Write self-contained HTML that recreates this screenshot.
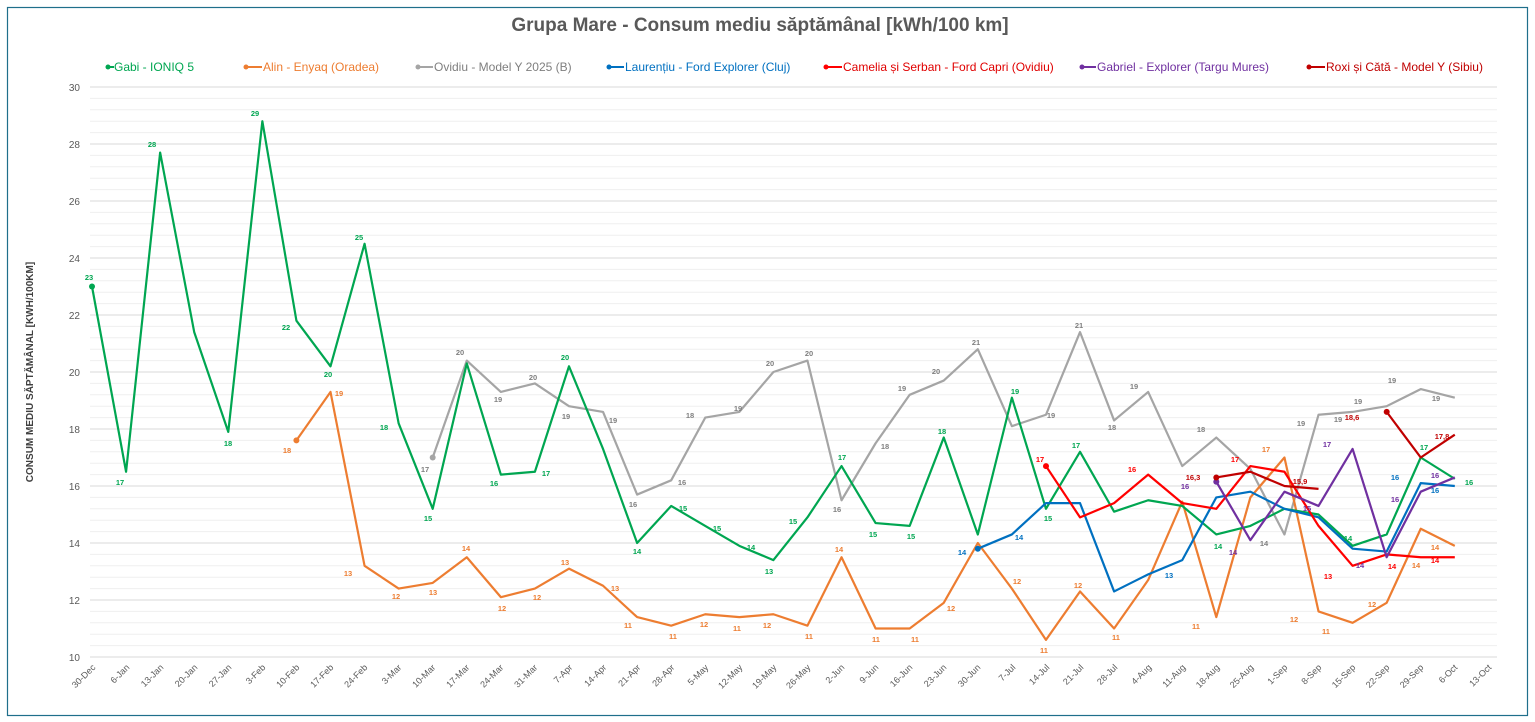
<!DOCTYPE html>
<html><head><meta charset="utf-8"><style>
html,body{margin:0;padding:0;background:#fff;}
svg{display:block;font-family:"Liberation Sans",sans-serif;}
.dl{font-size:7.5px;font-weight:bold;}
</style></head><body>
<svg width="1535" height="722" viewBox="0 0 1535 722" xmlns="http://www.w3.org/2000/svg">
<rect x="0" y="0" width="1535" height="722" fill="#fff"/>
<rect x="7.5" y="7.5" width="1520" height="708" fill="none" stroke="#1f6f8b" stroke-width="1.2"/>
<text x="760" y="31" text-anchor="middle" font-size="19" font-weight="bold" fill="#595959">Grupa Mare - Consum mediu săptămânal [kWh/100 km]</text>
<!-- legend -->
<g font-size="12">
<line x1="106" y1="67" x2="114" y2="67" stroke="#00A651" stroke-width="2"/><circle cx="108" cy="67" r="2.5" fill="#00A651"/><text x="114" y="71" fill="#00A651">Gabi - IONIQ 5</text>
<line x1="245" y1="67" x2="262" y2="67" stroke="#ED7D31" stroke-width="2"/><circle cx="246" cy="67" r="2.5" fill="#ED7D31"/><text x="263" y="71" fill="#ED7D31">Alin - Enyaq (Oradea)</text>
<line x1="417" y1="67" x2="433" y2="67" stroke="#A5A5A5" stroke-width="2"/><circle cx="418" cy="67" r="2.5" fill="#A5A5A5"/><text x="434" y="71" fill="#7f7f7f">Ovidiu - Model Y 2025 (B)</text>
<line x1="608" y1="67" x2="624" y2="67" stroke="#0070C0" stroke-width="2"/><circle cx="609" cy="67" r="2.5" fill="#0070C0"/><text x="625" y="71" fill="#0070C0">Laurențiu - Ford Explorer (Cluj)</text>
<line x1="825" y1="67" x2="842" y2="67" stroke="#FF0000" stroke-width="2"/><circle cx="826" cy="67" r="2.5" fill="#FF0000"/><text x="843" y="71" fill="#E00000">Camelia și Serban - Ford Capri (Ovidiu)</text>
<line x1="1081" y1="67" x2="1096" y2="67" stroke="#7030A0" stroke-width="2"/><circle cx="1082" cy="67" r="2.5" fill="#7030A0"/><text x="1097" y="71" fill="#7030A0">Gabriel - Explorer (Targu Mures)</text>
<line x1="1308" y1="67" x2="1325" y2="67" stroke="#C00000" stroke-width="2"/><circle cx="1309" cy="67" r="2.5" fill="#C00000"/><text x="1326" y="71" fill="#C00000">Roxi și Cătă - Model Y (Sibiu)</text>
</g>
<!-- grid -->
<g stroke="#efefef" stroke-width="1">
<path d="M90 98.4H1497M90 109.8H1497M90 121.2H1497M90 132.6H1497M90 155.4H1497M90 166.8H1497M90 178.2H1497M90 189.6H1497M90 212.4H1497M90 223.8H1497M90 235.2H1497M90 246.6H1497M90 269.4H1497M90 280.8H1497M90 292.2H1497M90 303.6H1497M90 326.4H1497M90 337.8H1497M90 349.2H1497M90 360.6H1497M90 383.4H1497M90 394.8H1497M90 406.2H1497M90 417.6H1497M90 440.4H1497M90 451.8H1497M90 463.2H1497M90 474.6H1497M90 497.4H1497M90 508.8H1497M90 520.2H1497M90 531.6H1497M90 554.4H1497M90 565.8H1497M90 577.2H1497M90 588.6H1497M90 611.4H1497M90 622.8H1497M90 634.2H1497M90 645.6H1497"/>
</g>
<g stroke="#d9d9d9" stroke-width="1">
<path d="M90 87H1497M90 144H1497M90 201H1497M90 258H1497M90 315H1497M90 372H1497M90 429H1497M90 486H1497M90 543H1497M90 600H1497M90 657H1497"/>
</g>
<g font-size="10" fill="#595959" text-anchor="end">
<text x="80" y="91">30</text><text x="80" y="148">28</text><text x="80" y="205">26</text><text x="80" y="262">24</text><text x="80" y="319">22</text><text x="80" y="376">20</text><text x="80" y="433">18</text><text x="80" y="490">16</text><text x="80" y="547">14</text><text x="80" y="604">12</text><text x="80" y="661">10</text>
</g>
<text transform="translate(33,372) rotate(-90)" text-anchor="middle" font-size="10" font-weight="bold" fill="#404040">CONSUM MEDIU SĂPTĂMÂNAL [KWH/100KM]</text>
<!-- x labels -->
<g font-size="9" fill="#595959" text-anchor="end">
<text transform="translate(96,668) rotate(-45)">30-Dec</text>
<text transform="translate(130,668) rotate(-45)">6-Jan</text>
<text transform="translate(164,668) rotate(-45)">13-Jan</text>
<text transform="translate(198,668) rotate(-45)">20-Jan</text>
<text transform="translate(232,668) rotate(-45)">27-Jan</text>
<text transform="translate(266,668) rotate(-45)">3-Feb</text>
<text transform="translate(300,668) rotate(-45)">10-Feb</text>
<text transform="translate(334,668) rotate(-45)">17-Feb</text>
<text transform="translate(368,668) rotate(-45)">24-Feb</text>
<text transform="translate(402,668) rotate(-45)">3-Mar</text>
<text transform="translate(436,668) rotate(-45)">10-Mar</text>
<text transform="translate(470,668) rotate(-45)">17-Mar</text>
<text transform="translate(504,668) rotate(-45)">24-Mar</text>
<text transform="translate(538,668) rotate(-45)">31-Mar</text>
<text transform="translate(573,668) rotate(-45)">7-Apr</text>
<text transform="translate(607,668) rotate(-45)">14-Apr</text>
<text transform="translate(641,668) rotate(-45)">21-Apr</text>
<text transform="translate(675,668) rotate(-45)">28-Apr</text>
<text transform="translate(709,668) rotate(-45)">5-May</text>
<text transform="translate(743,668) rotate(-45)">12-May</text>
<text transform="translate(777,668) rotate(-45)">19-May</text>
<text transform="translate(811,668) rotate(-45)">26-May</text>
<text transform="translate(845,668) rotate(-45)">2-Jun</text>
<text transform="translate(879,668) rotate(-45)">9-Jun</text>
<text transform="translate(913,668) rotate(-45)">16-Jun</text>
<text transform="translate(947,668) rotate(-45)">23-Jun</text>
<text transform="translate(981,668) rotate(-45)">30-Jun</text>
<text transform="translate(1016,668) rotate(-45)">7-Jul</text>
<text transform="translate(1050,668) rotate(-45)">14-Jul</text>
<text transform="translate(1084,668) rotate(-45)">21-Jul</text>
<text transform="translate(1118,668) rotate(-45)">28-Jul</text>
<text transform="translate(1152,668) rotate(-45)">4-Aug</text>
<text transform="translate(1186,668) rotate(-45)">11-Aug</text>
<text transform="translate(1220,668) rotate(-45)">18-Aug</text>
<text transform="translate(1254,668) rotate(-45)">25-Aug</text>
<text transform="translate(1288,668) rotate(-45)">1-Sep</text>
<text transform="translate(1322,668) rotate(-45)">8-Sep</text>
<text transform="translate(1356,668) rotate(-45)">15-Sep</text>
<text transform="translate(1390,668) rotate(-45)">22-Sep</text>
<text transform="translate(1424,668) rotate(-45)">29-Sep</text>
<text transform="translate(1458,668) rotate(-45)">6-Oct</text>
<text transform="translate(1492,668) rotate(-45)">13-Oct</text>
</g>
<!-- series -->
<g transform="translate(92,942) scale(34.07,-28.5)" fill="none" stroke-width="2.2" stroke-linejoin="round">
<polyline vector-effect="non-scaling-stroke" stroke="#A5A5A5" points="10,17.0 11,20.4 12,19.3 13,19.6 14,18.8 15,18.6 16,15.7 17,16.2 18,18.4 19,18.6 20,20.0 21,20.4 22,15.5 23,17.5 24,19.2 25,19.7 26,20.8 27,18.1 28,18.5 29,21.4 30,18.3 31,19.3 32,16.7 33,17.7 34,16.6 35,14.3 36,18.5 37,18.6 38,18.8 39,19.4 40,19.1"/>
<polyline vector-effect="non-scaling-stroke" stroke="#ED7D31" points="6,17.6 7,19.3 8,13.2 9,12.4 10,12.6 11,13.5 12,12.1 13,12.4 14,13.1 15,12.5 16,11.4 17,11.1 18,11.5 19,11.4 20,11.5 21,11.1 22,13.5 23,11.0 24,11.0 25,11.9 26,14.0 27,12.4 28,10.6 29,12.3 30,11.0 31,12.7 32,15.45 33,11.4 34,15.6 35,17.0 36,11.6 37,11.2 38,11.9 39,14.5 40,13.9"/>
<polyline vector-effect="non-scaling-stroke" stroke="#00A651" points="0,23.0 1,16.5 2,27.7 3,21.4 4,17.9 5,28.8 6,21.8 7,20.2 8,24.5 9,18.2 10,15.2 11,20.3 12,16.4 13,16.5 14,20.2 15,17.3 16,14.0 17,15.3 18,14.6 19,13.9 20,13.4 21,14.9 22,16.7 23,14.7 24,14.6 25,17.7 26,14.3 27,19.1 28,15.2 29,17.2 30,15.1 31,15.5 32,15.3 33,14.3 34,14.6 35,15.2 36,15.0 37,13.9 38,14.3 39,17.0 40,16.25"/>
<polyline vector-effect="non-scaling-stroke" stroke="#0070C0" points="26,13.8 27,14.3 28,15.4 29,15.4 30,12.3 31,12.9 32,13.4 33,15.6 34,15.8 35,15.2 36,14.9 37,13.8 38,13.7 39,16.1 40,16.0"/>
<polyline vector-effect="non-scaling-stroke" stroke="#FF0000" points="28,16.7 29,14.9 30,15.4 31,16.4 32,15.4 33,15.2 34,16.7 35,16.5 36,14.6 37,13.2 38,13.6 39,13.5 40,13.5"/>
<polyline vector-effect="non-scaling-stroke" stroke="#7030A0" points="33,16.15 34,14.1 35,15.8 36,15.3 37,17.3 38,13.5 39,15.8 40,16.3"/>
<polyline vector-effect="non-scaling-stroke" stroke="#C00000" points="33,16.3 34,16.5 35,16.0 36,15.9"/>
<polyline vector-effect="non-scaling-stroke" stroke="#C00000" points="38,18.6 39,17.0 40,17.8"/>
</g>
<!-- markers -->
<circle cx="92" cy="286.5" r="3" fill="#00A651"/>
<circle cx="296.4" cy="440.4" r="3" fill="#ED7D31"/>
<circle cx="432.7" cy="457.5" r="3" fill="#A5A5A5"/>
<circle cx="977.8" cy="548.7" r="3" fill="#0070C0"/>
<circle cx="1046" cy="466.1" r="3" fill="#FF0000"/>
<circle cx="1216.3" cy="481.7" r="3" fill="#7030A0"/>
<circle cx="1216.3" cy="477.5" r="3" fill="#C00000"/>
<circle cx="1386.7" cy="411.9" r="3" fill="#C00000"/>
<!-- data labels -->
<g class="dl" fill="#00A651" text-anchor="middle">
<text x="89" y="280">23</text><text x="120" y="485">17</text><text x="152" y="147">28</text><text x="255" y="116">29</text><text x="228" y="446">18</text><text x="286" y="330">22</text><text x="328" y="377">20</text><text x="359" y="240">25</text><text x="384" y="430">18</text><text x="428" y="521">15</text><text x="494" y="486">16</text><text x="546" y="476">17</text><text x="565" y="360">20</text><text x="637" y="554">14</text><text x="683" y="511">15</text><text x="717" y="531">15</text><text x="751" y="550">14</text><text x="769" y="574">13</text><text x="793" y="524">15</text><text x="842" y="460">17</text><text x="873" y="537">15</text><text x="911" y="539">15</text><text x="942" y="434">18</text><text x="1015" y="394">19</text><text x="1048" y="521">15</text><text x="1076" y="448">17</text><text x="1218" y="549">14</text><text x="1348" y="541">14</text><text x="1424" y="450">17</text><text x="1469" y="485">16</text>
</g>
<g class="dl" fill="#ED7D31" text-anchor="middle">
<text x="287" y="453">18</text><text x="339" y="396">19</text><text x="348" y="576">13</text><text x="396" y="599">12</text><text x="433" y="595">13</text><text x="466" y="551">14</text><text x="502" y="611">12</text><text x="537" y="600">12</text><text x="565" y="565">13</text><text x="615" y="591">13</text><text x="628" y="628">11</text><text x="673" y="639">11</text><text x="704" y="627">12</text><text x="737" y="631">11</text><text x="767" y="628">12</text><text x="809" y="639">11</text><text x="839" y="552">14</text><text x="876" y="642">11</text><text x="915" y="642">11</text><text x="951" y="611">12</text><text x="1017" y="584">12</text><text x="1044" y="653">11</text><text x="1078" y="588">12</text><text x="1116" y="640">11</text><text x="1196" y="629">11</text><text x="1266" y="452">17</text><text x="1294" y="622">12</text><text x="1326" y="634">11</text><text x="1372" y="607">12</text><text x="1416" y="568">14</text><text x="1435" y="550">14</text>
</g>
<g class="dl" fill="#808080" text-anchor="middle">
<text x="425" y="472">17</text><text x="460" y="355">20</text><text x="498" y="402">19</text><text x="533" y="380">20</text><text x="566" y="419">19</text><text x="613" y="423">19</text><text x="633" y="507">16</text><text x="682" y="485">16</text><text x="690" y="418">18</text><text x="738" y="411">19</text><text x="770" y="366">20</text><text x="809" y="356">20</text><text x="837" y="512">16</text><text x="885" y="449">18</text><text x="902" y="391">19</text><text x="936" y="374">20</text><text x="976" y="345">21</text><text x="1051" y="418">19</text><text x="1079" y="328">21</text><text x="1112" y="430">18</text><text x="1134" y="389">19</text><text x="1201" y="432">18</text><text x="1264" y="546">14</text><text x="1301" y="426">19</text><text x="1338" y="422">19</text><text x="1358" y="404">19</text><text x="1392" y="383">19</text><text x="1436" y="401">19</text>
</g>
<g class="dl" fill="#0070C0" text-anchor="middle">
<text x="962" y="555">14</text><text x="1019" y="540">14</text><text x="1169" y="578">13</text><text x="1395" y="480">16</text><text x="1435" y="493">16</text>
</g>
<g class="dl" fill="#FF0000" text-anchor="middle">
<text x="1040" y="462">17</text><text x="1132" y="472">16</text><text x="1235" y="462">17</text><text x="1328" y="579">13</text><text x="1392" y="569">14</text><text x="1435" y="563">14</text>
</g>
<g class="dl" fill="#7030A0" text-anchor="middle">
<text x="1185" y="489">16</text><text x="1233" y="555">14</text><text x="1307" y="511">15</text><text x="1327" y="447">17</text><text x="1360" y="568">14</text><text x="1395" y="502">16</text><text x="1435" y="478">16</text>
</g>
<g class="dl" fill="#C00000" text-anchor="middle">
<text x="1193" y="480">16,3</text><text x="1300" y="484">15,9</text><text x="1352" y="420">18,6</text><text x="1442" y="439">17,8</text>
</g>
</svg>
</body></html>
